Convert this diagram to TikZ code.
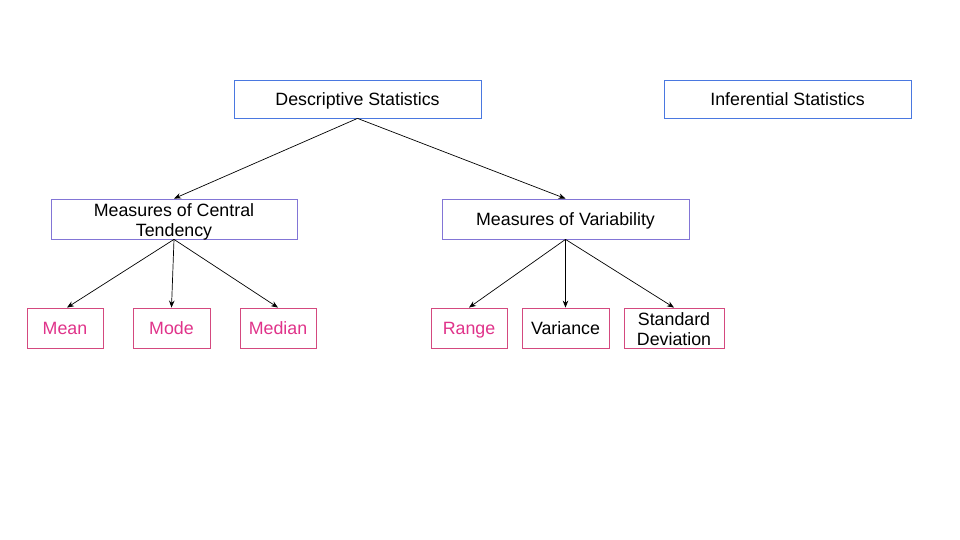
\documentclass[tikz,border=0pt]{standalone}
\usepackage{fontspec}
\setmainfont{Liberation Sans}
\usetikzlibrary{arrows.meta}
\definecolor{boxblue}{HTML}{4A78E0}
\definecolor{boxpurple}{HTML}{8275D6}
\definecolor{boxpink}{HTML}{D4497F}
\definecolor{txtpink}{HTML}{E0338A}
\newcommand{\mytwolines}[2]{\rule{0pt}{15pt}#1\\\smash{#2}}
\tikzset{
  box/.style={draw, line width=0.8pt, inner sep=0pt, minimum height=38pt, align=center,
    font=\fontsize{17.8}{20}\selectfont, fill=white},
  oneline/.style={text height=14pt, text depth=0pt},
  topbox/.style={box, oneline, draw=boxblue, minimum width=247pt},
  midbox/.style={box, draw=boxpurple, minimum width=246pt, minimum height=40pt},
  leafbox/.style={box, draw=boxpink, minimum height=40pt},
  pinktext/.style={text=txtpink},
  conn/.style={-{Stealth[length=7pt,width=5.5pt]}, line width=0.7pt, black}
}
\begin{document}
\begin{tikzpicture}[x=1pt,y=1pt]
\useasboundingbox (0,0) rectangle (960,540);
\node[topbox] (desc) at (357.5,441) {Descriptive Statistics};
\node[topbox] (inf) at (787.5,441) {Inferential Statistics};
\node[midbox] (ct) at (174,321) {\mytwolines{Measures of Central}{Tendency}};
\node[midbox, oneline, minimum width=247pt] (mv) at (565.5,321) {Measures of Variability};
\node[leafbox, oneline, pinktext, minimum width=76pt] (mean) at (65,212) {Mean};
\node[leafbox, oneline, pinktext, minimum width=77pt] (mode) at (171.5,212) {Mode};
\node[leafbox, oneline, pinktext, minimum width=76pt] (median) at (278,212) {Median};
\node[leafbox, oneline, pinktext, minimum width=76pt] (range) at (469,212) {Range};
\node[leafbox, oneline, minimum width=87pt] (variance) at (565.5,212) {Variance};
\node[leafbox, minimum width=100pt] (sd) at (674,212) {\mytwolines{Standard}{Deviation}};
\draw[conn] (desc.south) -- (ct.north);
\draw[conn] (desc.south) -- (mv.north);
\draw[conn] (ct.south) -- ([xshift=2pt]mean.north);
\draw[conn] (ct.south) -- (mode.north);
\draw[conn] (ct.south) -- (median.north);
\draw[conn] (mv.south) -- (range.north);
\draw[conn] (mv.south) -- (variance.north);
\draw[conn] (mv.south) -- (sd.north);
\end{tikzpicture}
\end{document}
